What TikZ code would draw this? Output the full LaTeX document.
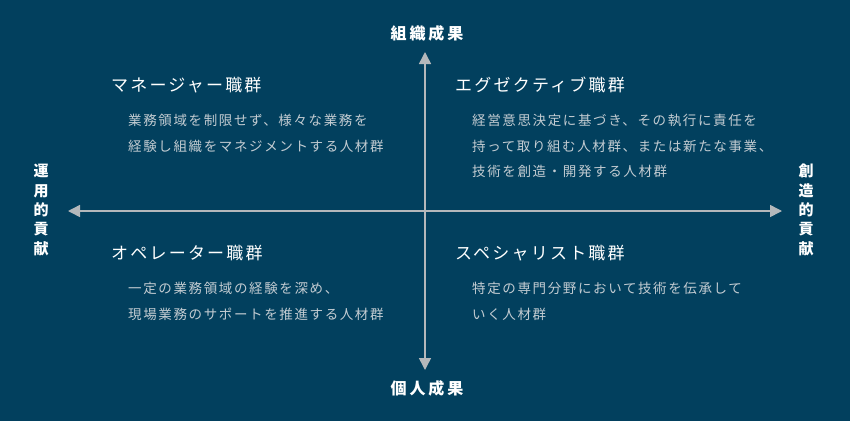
\documentclass[tikz,border=0pt]{standalone}
\usepackage{fontspec}
\setmainfont{Noto Sans CJK JP}
\newfontfamily\axisfont[LetterSpace=18]{Noto Sans CJK JP}
\newfontfamily\titlefont[LetterSpace=13]{Noto Sans CJK JP}
\newfontfamily\bodyfont[LetterSpace=12]{Noto Sans CJK JP}
\usetikzlibrary{arrows.meta}
\definecolor{bg}{HTML}{02405E}
\definecolor{axisgray}{HTML}{B4B8BB}
\definecolor{bodygray}{HTML}{C3CCD2}
\tikzset{
  axisline/.style={draw=axisgray, line width=1.5pt, -{Triangle[length=12pt,width=12pt]}},
  axislabel/.style={text=white, inner sep=0pt, font=\axisfont\bfseries\fontsize{16}{19}\selectfont},
  vlabel/.style={text=white, inner sep=0pt, align=center, font=\bfseries\fontsize{15}{19.3}\selectfont},
  qtitle/.style={text=white, inner sep=0pt, anchor=west, font=\titlefont\fontsize{17}{20}\selectfont},
  qbody/.style={text=bodygray, inner sep=0pt, anchor=north west, align=left, font=\bodyfont\fontsize{13.5}{25.5}\selectfont},
}
\begin{document}
\begin{tikzpicture}[x=1pt,y=-1pt]
\fill[bg] (0,0) rectangle (850,421);
\useasboundingbox (0,0) rectangle (850,421);
% axes
\coordinate (ctr) at (425,211);
\coordinate (top) at (425,52);
\coordinate (bot) at (425,370);
\coordinate (lft) at (68,211);
\coordinate (rgt) at (782,211);
\draw[axisline] (ctr) -- (top);
\draw[axisline] (ctr) -- (bot);
\draw[axisline] (ctr) -- (lft);
\draw[axisline] (ctr) -- (rgt);
% axis labels
\node[axislabel] (lt) at (427,33) {組織成果};
\node[axislabel] (lb) at (427,388) {個人成果};
\node[vlabel] (ll) at (41,210) {運\\用\\的\\貢\\献};
\node[vlabel] (lr) at (806,210) {創\\造\\的\\貢\\献};
% quadrants
\node[qtitle] (t1) at (111,85) {マネージャー職群};
\node[qbody] (b1) at (128,114) {業務領域を制限せず、様々な業務を\\経験し組織をマネジメントする人材群};
\node[qtitle] (t2) at (455,85) {エグゼクティブ職群};
\node[qbody] (b2) at (472,114) {経営意思決定に基づき、その執行に責任を\\持って取り組む人材群、または新たな事業、\\技術を創造・開発する人材群};
\node[qtitle] (t3) at (111,253) {オペレーター職群};
\node[qbody] (b3) at (128,282) {一定の業務領域の経験を深め、\\現場業務のサポートを推進する人材群};
\node[qtitle] (t4) at (455,253) {スペシャリスト職群};
\node[qbody] (b4) at (472,282) {特定の専門分野において技術を伝承して\\いく人材群};
\end{tikzpicture}
\end{document}
